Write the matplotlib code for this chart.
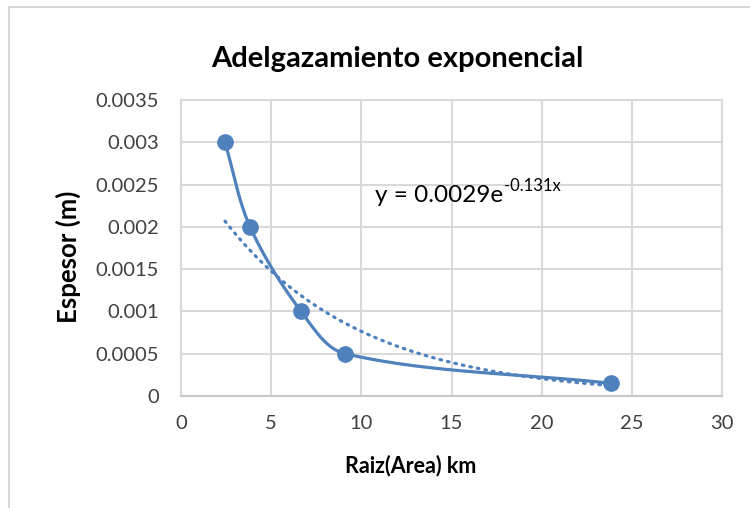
import numpy as np
import matplotlib
matplotlib.use('Agg')
import matplotlib.pyplot as plt
from matplotlib.patches import Rectangle
from matplotlib.transforms import offset_copy

# Data
raiz_area = [2.44, 3.83, 6.66, 9.1, 23.85]      # km
espesor = [0.003, 0.002, 0.001, 0.0005, 0.00015]  # m

x_ticks = [0, 5, 10, 15, 20, 25, 30]
y_ticks = [0, 0.0005, 0.001, 0.0015, 0.002, 0.0025, 0.003, 0.0035]
y_tick_labels = ['0', '0.0005', '0.001', '0.0015', '0.002', '0.0025', '0.003', '0.0035']
trend_base = 'y = 0.0029e'
trend_exp = '-0.131x'

blue = '#4F81BD'
grid_col = '#D9D9D9'
plt.rcParams['font.family'] = ['Lato', 'DejaVu Sans']

W, H = 750, 508
fig = plt.figure(figsize=(7.5, 5.08), dpi=100)
ax = fig.add_axes([181 / W, 1 - 396 / H, 541 / W, 296 / H])

# outer chart frame (cropped at right/bottom)
fig.patches.append(Rectangle((9 / W, -0.05), 1.0, 1 - 7 / H + 0.05,
                             transform=fig.transFigure, fill=False,
                             edgecolor=grid_col, linewidth=1.5))


def smooth(xs, ys, xr, yr, n=60):
    # smoothed line through the points, bezier segments in pixel space
    p = np.column_stack([np.array(xs) / xr, np.array(ys) / yr])
    d = np.linalg.norm(np.diff(p, axis=0), axis=1)
    tang = np.zeros_like(p)
    for i in range(len(p)):
        if i == 0:
            tang[i] = (p[1] - p[0]) / d[0]
        elif i == len(p) - 1:
            tang[i] = (p[-1] - p[-2]) / d[-1]
        else:
            tang[i] = (p[i + 1] - p[i - 1]) / (d[i - 1] + d[i])
    out = []
    for i in range(len(p) - 1):
        p1, p2 = p[i], p[i + 1]
        c1 = p1 + tang[i] * d[i] / 3
        c2 = p2 - tang[i + 1] * d[i] / 3
        t = np.linspace(0, 1, n)[:, None]
        seg = ((1 - t) ** 3 * p1 + 3 * (1 - t) ** 2 * t * c1
               + 3 * (1 - t) * t ** 2 * c2 + t ** 3 * p2)
        out.append(seg)
    out = np.vstack(out)
    return out[:, 0] * xr, out[:, 1] * yr


sx, sy = smooth(raiz_area, espesor, 30 / 541, 0.0035 / 296)
ax.plot(sx, sy, color=blue, linewidth=2.3, zorder=3)
ax.plot(raiz_area, espesor, 'o', color=blue, markersize=11, zorder=4)

# exponential trend line fitted to the data
b, ln_a = np.polyfit(raiz_area, np.log(espesor), 1)
tx = np.linspace(min(raiz_area), max(raiz_area), 200)
ax.plot(tx, np.exp(ln_a) * np.exp(b * tx), color=blue, linewidth=2.3,
        linestyle=(0, (0.5, 1.9)), dash_capstyle='round', zorder=2)

ax.set_xlim(0, 30)
ax.set_ylim(0, 0.0035)
ax.set_xticks(x_ticks)
ax.set_yticks(y_ticks)
ax.set_yticklabels(y_tick_labels)
ax.tick_params(length=0, labelsize=14.5, colors='#404040')
ax.tick_params(axis='x', pad=14)
ax.tick_params(axis='y', pad=16)
ax.grid(True, color=grid_col, linewidth=1.5)
ax.set_axisbelow(True)
for s in ax.spines.values():
    s.set_color(grid_col)
    s.set_linewidth(1.5)
ax.spines['bottom'].set_color('#C8C8C8')

# trend line equation, superscript as a second text
t1 = ax.text(10.75, 0.00229, trend_base, fontsize=17.5, color='black', va='baseline')
fig.canvas.draw()
bb = t1.get_window_extent()
x_end = ax.transData.inverted().transform((bb.x1, bb.y0))[0]
ax.text(x_end, 0.00229, trend_exp, fontsize=12, color='black', va='baseline',
        transform=offset_copy(ax.transData, fig=fig, x=0.5, y=8, units='points'))

ax.set_xlabel('Raiz(Area) km', fontsize=15.5, fontweight='bold')
ax.xaxis.set_label_coords((411 - 181) / 541, (396 - 466) / 296)
ax.xaxis.label.set_va('center')
ax.set_ylabel('Espesor (m)', fontsize=18.5, fontweight='bold')
ax.yaxis.set_label_coords((68 - 181) / 541, 0.47)
ax.yaxis.label.set_va('center')
fig.text(397 / W, 1 - 67 / H, 'Adelgazamiento exponencial', fontsize=21,
         fontweight='bold', ha='center', va='baseline')

fig.savefig('out.png', dpi=100)
